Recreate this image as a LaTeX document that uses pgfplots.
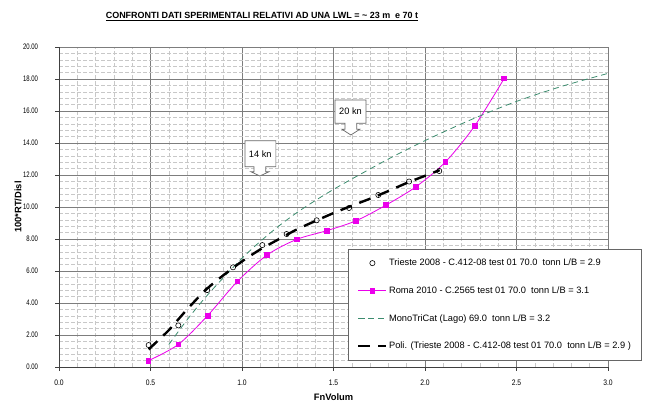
\documentclass[border=0pt]{standalone}
\usepackage{fontspec}
\setmainfont{Liberation Sans}
\usepackage{graphicx}
\usepackage{pgfplots}
\pgfplotsset{compat=1.18}
\definecolor{mtcgreen}{RGB}{60,140,110}
\definecolor{majgrid}{RGB}{125,125,125}
\definecolor{mingrid}{RGB}{200,200,200}
\definecolor{roma}{RGB}{235,0,235}
\begin{document}
\begin{tikzpicture}
\useasboundingbox (0,0) rectangle (664bp,-410bp);
\node[font=\bfseries\fontsize{9}{11}\selectfont] at (262bp,-16.3bp) {\underline{CONFRONTI DATI SPERIMENTALI RELATIVI AD UNA LWL = \textasciitilde\ 23 m\ \ e 70 t}};
\begin{axis}[
  at={(59bp,-367bp)}, anchor=south west,
  scale only axis, width=549bp, height=320bp,
  xmin=0, xmax=3, ymin=0, ymax=20,
  xtick={0,0.5,...,3}, ytick={0,2,...,20},
  minor x tick num=4, minor y tick num=4,
  grid=both,
  major grid style={majgrid, line width=0.7bp},
  minor grid style={mingrid, line width=0.5bp, dash pattern=on 4bp off 2bp},
  axis x line*=bottom, axis y line*=left,
  axis line style={black!75, line width=0.8bp},
  tick align=outside, major tick length=3.5bp, minor tick length=0bp,
  tick style={black!75, line width=0.8bp},
  /pgf/number format/assume math mode=true,
  xticklabel={\scalebox{0.85}[1]{\pgfmathprintnumber[fixed,fixed zerofill,precision=1]{\tick}}},
  yticklabel={\scalebox{0.75}[1]{\pgfmathprintnumber[fixed,fixed zerofill,precision=2]{\tick}}},
  xticklabel style={yshift=-6bp, font=\fontsize{8}{9}\selectfont},
  yticklabel style={xshift=-14bp, font=\fontsize{8}{9}\selectfont},
  xlabel={FnVolum}, ylabel={100*RT/Disl},
  label style={font=\bfseries\fontsize{9.4}{11}\selectfont},
  xlabel style={at={(axis description cs:0.5,-0.09375)}, anchor=center},
  ylabel style={at={(axis description cs:-0.0747,0.5)}, anchor=center},
  legend style={at={(0.5264,0.0219)}, anchor=south west, draw=black!60, fill=white,
    font=\fontsize{9.3}{11}\selectfont, row sep=15.5bp, inner xsep=9bp, inner ysep=7.5bp,
    nodes={inner xsep=1.5bp}},
  legend cell align=left,
  legend image code/.code={\draw[mark repeat=2,mark phase=2,#1] plot coordinates {(0bp,0bp) (14bp,0bp) (28bp,0bp)};},
]
\addplot[only marks, mark=o, mark size=2.6bp, mark options={black, fill=white, line width=0.6bp}]
coordinates {(0.49,1.37) (0.652,2.60) (0.81,4.81) (0.951,6.23) (1.111,7.62) (1.244,8.31) (1.408,9.17) (1.585,9.94) (1.745,10.75) (1.913,11.59) (2.078,12.25)};
\addlegendentry{Trieste 2008 - C.412-08 test 01 70.0\ \ tonn L/B = 2.9}
\addplot[roma, line width=0.8bp, smooth, mark=square*, mark size=2.4bp, mark options={fill=roma, draw=roma}]
coordinates {(0.488,0.39) (0.652,1.41) (0.812,3.21) (0.975,5.35) (1.137,7.00) (1.30,7.98) (1.463,8.52) (1.623,9.14) (1.787,10.12) (1.951,11.27) (2.111,12.81) (2.271,15.06) (2.433,18.04)};
\addlegendentry{Roma 2010 - C.2565 test 01 70.0\ \ tonn L/B = 3.1}
\addplot[mtcgreen, line width=0.8bp, dash pattern=on 6bp off 4bp, smooth]
coordinates {(0.6,1.4) (0.7,2.95) (0.8,4.35) (0.9,5.6) (1.0,6.8) (1.1,7.85) (1.2,8.8) (1.3,9.65) (1.4,10.4) (1.5,11.1) (1.6,11.75) (1.8,13.0) (2.0,14.15) (2.25,15.45) (2.5,16.6) (2.75,17.55) (3.0,18.35)};
\addlegendentry{MonoTriCat (Lago) 69.0\ \ tonn L/B = 3.2}
\addplot[black, line width=2.4bp, dash pattern=on 12bp off 8bp, smooth]
coordinates {(0.49,1.1) (0.55,1.75) (0.6,2.3) (0.65,2.95) (0.7,3.6) (0.8,4.8) (0.9,5.75) (1.0,6.6) (1.1,7.35) (1.2,7.98) (1.3,8.6) (1.4,9.12) (1.5,9.62) (1.6,10.08) (1.7,10.52) (1.8,11.0) (1.9,11.5) (2.0,11.95) (2.08,12.3)};
\addlegendentry{Poli. (Trieste 2008 - C.412-08 test 01 70.0\ \ tonn L/B = 2.9 )}
% callouts
\draw[fill=white, draw=black!60, line width=0.7bp]
  (axis cs:1.016,14.14) -- (axis cs:1.185,14.14) -- (axis cs:1.185,12.52)
  -- (axis cs:1.130,12.52) -- (axis cs:1.130,12.2) -- (axis cs:1.147,12.2)
  -- (axis cs:1.098,11.94) -- (axis cs:1.049,12.2) -- (axis cs:1.066,12.2)
  -- (axis cs:1.066,12.52) -- (axis cs:1.016,12.52) -- cycle;
\node[font=\fontsize{9.3}{11}\selectfont] at (axis cs:1.1,13.33) {14 kn};
\draw[fill=white, draw=black!60, line width=0.7bp]
  (axis cs:1.508,16.69) -- (axis cs:1.678,16.69) -- (axis cs:1.678,15.23)
  -- (axis cs:1.627,15.23) -- (axis cs:1.627,14.86) -- (axis cs:1.644,14.86)
  -- (axis cs:1.595,14.5) -- (axis cs:1.546,14.86) -- (axis cs:1.563,14.86)
  -- (axis cs:1.563,15.23) -- (axis cs:1.508,15.23) -- cycle;
\node[font=\fontsize{9.3}{11}\selectfont] at (axis cs:1.593,15.96) {20 kn};
\end{axis}
\end{tikzpicture}
\end{document}
